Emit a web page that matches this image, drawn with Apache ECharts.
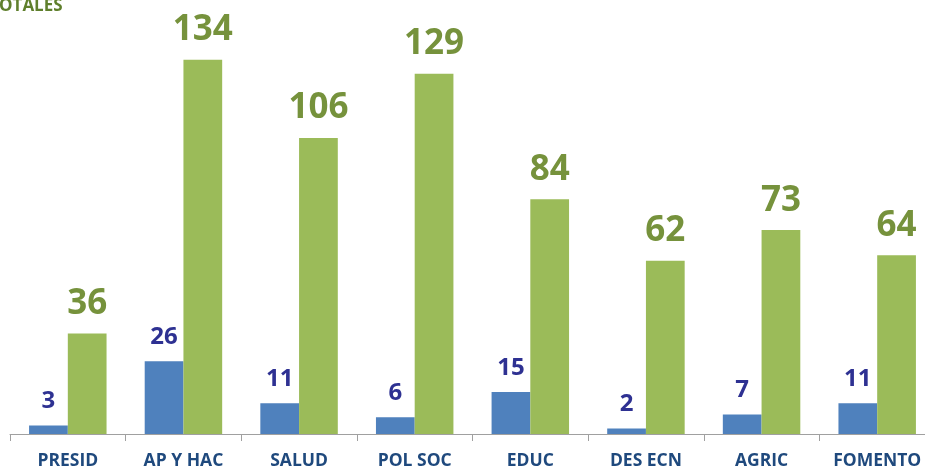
<!DOCTYPE html>
<html><head><meta charset="utf-8">
<script src="https://cdn.jsdelivr.net/npm/echarts@6/dist/echarts.min.js"></script>
<style>html,body{margin:0;padding:0;background:#fff;overflow:hidden;width:925px;height:470px}#c{width:935px;height:470px}</style>
</head><body><div id="c"></div>
<script>
var categories = ['PRESID', 'AP Y HAC', 'SALUD', 'POL SOC', 'EDUC', 'DES ECN', 'AGRIC', 'FOMENTO'];
var blueValues = [3, 26, 11, 6, 15, 2, 7, 11];
var greenValues = [36, 134, 106, 129, 84, 62, 73, 64];
var titleText = 'OTALES';

var chart = echarts.init(document.getElementById('c'), null, {renderer: 'canvas'});
chart.setOption({
  animation: false,
  backgroundColor: '#ffffff',
  graphic: [{
    type: 'text', left: -1, top: -2,
    style: {text: titleText, fill: '#5f7f2c', font: 'bold 17px "Open Sans", sans-serif'}
  }],
  grid: {left: 10, right: 0, top: 15, bottom: 35, containLabel: false},
  xAxis: {
    type: 'category', data: categories,
    axisLine: {lineStyle: {color: '#a0a0a0', width: 1}},
    axisTick: {show: true, length: 7, lineStyle: {color: '#a0a0a0'}},
    axisLabel: {color: '#1f497d', fontWeight: 'bold', fontSize: 17.5, fontFamily: '"Open Sans", sans-serif', margin: 18}
  },
  yAxis: {type: 'value', min: 0, max: 150, show: false, splitLine: {show: false}},
  series: [{
    type: 'bar', data: blueValues, barWidth: '33.5%', barGap: '0%',
    itemStyle: {color: '#4f81bd'},
    label: {show: true, position: 'top', distance: 12, color: '#2e3192', fontWeight: 'bold', fontSize: 24, fontFamily: '"Open Sans", sans-serif'}
  }, {
    type: 'bar', data: greenValues, barWidth: '33.5%', barGap: '0%',
    itemStyle: {color: '#9bbb59'},
    label: {show: true, position: 'top', distance: 12, color: '#76923c', fontWeight: 'bold', fontSize: 35, fontFamily: '"Open Sans", sans-serif'}
  }]
});
</script></body></html>
